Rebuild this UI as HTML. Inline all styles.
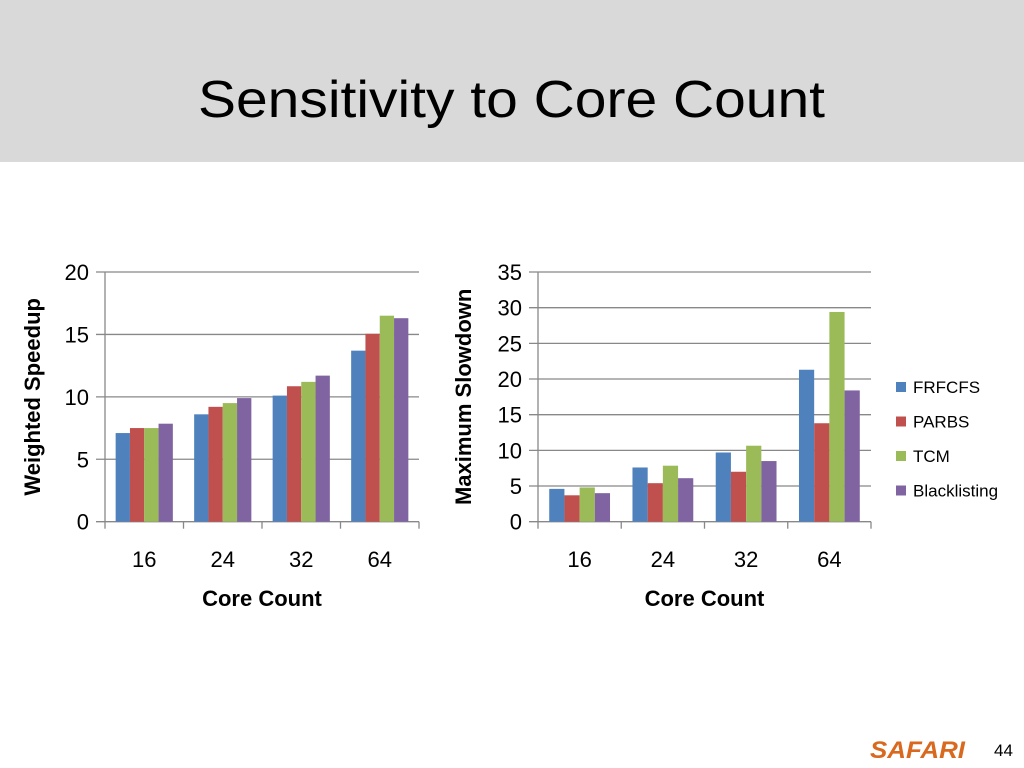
<!DOCTYPE html>
<html><head><meta charset="utf-8"><style>
body{margin:0;width:1024px;height:768px;background:#fff;overflow:hidden;font-family:"Liberation Sans",sans-serif}
svg{position:absolute;left:0;top:0}
</style></head><body>
<svg width="1024" height="768">
<rect x="0" y="0" width="1024" height="162" fill="#d9d9d9"/>
<text x="198" y="117" textLength="627" lengthAdjust="spacingAndGlyphs" font-size="52" fill="#000">Sensitivity to Core Count</text>
<g id="c1"></g>
<g id="c2"></g>
<g id="legend"></g>
<text x="870" y="758" textLength="95" lengthAdjust="spacingAndGlyphs" font-size="24" font-weight="bold" font-style="italic" fill="#d8691e">SAFARI</text>
<text x="994" y="756" font-size="17" fill="#000">44</text>
</svg>
<script>
const categories=["16","24","32","64"];
const seriesNames=["FRFCFS","PARBS","TCM","Blacklisting"];
const wsFRFCFS=[7.1,8.6,10.1,13.7];
const wsPARBS=[7.5,9.2,10.85,15.05];
const wsTCM=[7.5,9.5,11.2,16.5];
const wsBlack=[7.85,9.9,11.7,16.3];
const msFRFCFS=[4.6,7.6,9.7,21.3];
const msPARBS=[3.7,5.4,7.0,13.8];
const msTCM=[4.8,7.85,10.65,29.4];
const msBlack=[4.0,6.1,8.5,18.4];
const wsTicks=[0,5,10,15,20];
const msTicks=[0,5,10,15,20,25,30,35];
const colors=["#4f81bd","#c0504d","#9bbb59","#8064a2"];
const NS="http://www.w3.org/2000/svg";
function mk(parent,tag,attrs,txt){const e=document.createElementNS(NS,tag);for(const k in attrs)e.setAttribute(k,attrs[k]);if(txt!=null)e.textContent=txt;parent.appendChild(e);return e;}
function chart(g,cfg){
  const {x0,x1,yTop,yBot,max,ticks,series,barW,yTitle,titleX}=cfg;
  const y=v=>yBot-(v/max)*(yBot-yTop);
  const cw=(x1-x0)/categories.length;
  ticks.forEach(t=>{
    const l=mk(g,'line',{x1:x0-9,x2:x1,y1:y(t),y2:y(t),stroke:'#888','stroke-width':1.3});
    
    
    const tx=mk(g,'text',{x:x0-16,y:y(t)+8,'text-anchor':'end','font-size':22,fill:'#000'},String(t));
    
    
  });
  mk(g,'line',{x1:x0,x2:x0,y1:yTop,y2:yBot,stroke:'#888','stroke-width':1.3});
  for(let i=0;i<=categories.length;i++){mk(g,'line',{x1:x0+i*cw,x2:x0+i*cw,y1:yBot,y2:yBot+7,stroke:'#888','stroke-width':1.3});}
  categories.forEach((c,i)=>{
    const cx=x0+cw*(i+0.5);
    series.forEach((s,j)=>{
      const bx=cx-2*barW+j*barW;
      const r=mk(g,'rect',{x:bx,y:y(s[i]),width:barW,height:yBot-y(s[i]),fill:colors[j]});
      
      
    });
    const t=mk(g,'text',{x:cx,y:567,'text-anchor':'middle','font-size':22,fill:'#000'},c);
    
    
  });
  const xt=mk(g,'text',{x:(x0+x1)/2,y:606,'text-anchor':'middle','font-size':22,'font-weight':'bold',fill:'#000'},'Core Count');
  
  
  const cy=(yTop+yBot)/2;
  const yt=mk(g,'text',{x:titleX,y:cy,'text-anchor':'middle','font-size':22,'font-weight':'bold',fill:'#000',transform:`rotate(-90 ${titleX} ${cy})`},yTitle);
  
  
}
chart(document.getElementById('c1'),{x0:105,x1:419,yTop:272,yBot:521.7,max:20,ticks:wsTicks,series:[wsFRFCFS,wsPARBS,wsTCM,wsBlack],barW:14.3,yTitle:'Weighted Speedup',titleX:40});
chart(document.getElementById('c2'),{x0:538,x1:871,yTop:272,yBot:521.7,max:35,ticks:msTicks,series:[msFRFCFS,msPARBS,msTCM,msBlack],barW:15.2,yTitle:'Maximum Slowdown',titleX:471});
const lg=document.getElementById('legend');
seriesNames.forEach((n,i)=>{
  const yy=387+i*34.5;
  const r=mk(lg,'rect',{x:896,y:yy-5,width:10,height:10,fill:colors[i]});
  
  
  const t=mk(lg,'text',{x:913,y:yy+6,'font-size':17,fill:'#000'},n);
  
  
});
</script>
</body></html>
